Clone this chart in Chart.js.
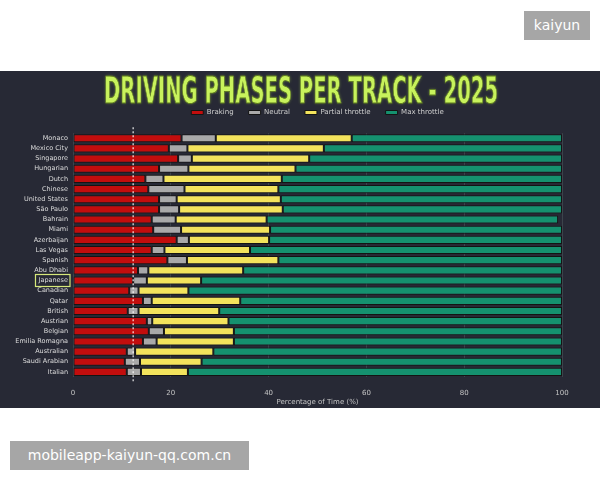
<!DOCTYPE html>
<html>
<head>
<meta charset="utf-8">
<script src="https://cdn.jsdelivr.net/npm/chart.js@4.4.1/dist/chart.umd.min.js"></script>
<style>
  html, body { margin: 0; padding: 0; background: #ffffff; width: 600px; height: 480px; overflow: hidden; }
  #panel { position: absolute; left: 0; top: 71px; width: 600px; height: 337px; background: #272935; }
  #chart { position: absolute; left: 0; top: 0; }
  #title {
    position: absolute; left: 301px; top: 1px; white-space: nowrap; pointer-events: none;
    font-family: "DejaVu Sans Condensed", "Liberation Sans Narrow", sans-serif;
    font-weight: bold; font-size: 37px; line-height: 37px; color: #c8f25c;
    -webkit-text-stroke: 0.8px #5d7a1e;
    text-shadow: 0 0 4px rgba(190, 240, 80, 0.45);
    transform-origin: 0 0;
  }
  .wm { position: absolute; background: #a6a6a6; color: #ffffff;
        font-family: "DejaVu Sans", sans-serif; text-align: center; }
  #wm1 { left: 524px; top: 11px; width: 66px; height: 29px; line-height: 29px; font-size: 14px; }
  #wm2 { left: 10px; top: 441px; width: 239px; height: 29px; line-height: 29px; font-size: 14px; }
</style>
</head>
<body>
<div id="wm1" class="wm">kaiyun</div>
<div id="panel">
  <canvas id="chart" width="600" height="337"></canvas>
  <div id="title">DRIVING PHASES PER TRACK - 2025</div>
</div>
<div id="wm2" class="wm">mobileapp-kaiyun-qq.com.cn</div>
<script>
const tracks = ['Monaco', 'Mexico City', 'Singapore', 'Hungarian', 'Dutch', 'Chinese',
  'United States', 'São Paulo', 'Bahrain', 'Miami', 'Azerbaijan', 'Las Vegas', 'Spanish',
  'Abu Dhabi', 'Japanese', 'Canadian', 'Qatar', 'British', 'Austrian', 'Belgian',
  'Emilia Romagna', 'Australian', 'Saudi Arabian', 'Italian'];

const braking  = [22.2, 19.6, 21.5, 17.6, 14.8, 15.4, 17.6, 17.6, 16.1, 16.4, 21.2, 16.1, 19.3,
                  13.3, 12.3, 11.5, 14.3, 11.2, 15.1, 15.5, 14.3, 11.0, 10.6, 11.0];
const neutral  = [7.0, 3.8, 2.8, 6.0, 3.7, 7.4, 3.6, 4.1, 4.9, 5.7, 2.5, 2.6, 4.0,
                  2.1, 2.8, 1.9, 1.8, 2.2, 1.1, 3.1, 2.8, 1.7, 3.1, 2.9];
const partial  = [27.8, 27.9, 24.0, 21.9, 24.2, 19.2, 21.3, 21.2, 18.6, 18.2, 16.4, 17.5, 18.7,
                  19.4, 11.1, 10.2, 18.1, 16.5, 15.6, 14.3, 15.8, 16.0, 12.6, 9.6];
const maxThrottle = [43.0, 48.7, 51.7, 54.5, 57.3, 58.0, 57.5, 57.1, 59.6, 59.7, 59.9, 63.8, 58.0,
                  65.2, 73.8, 76.4, 65.8, 70.1, 68.2, 67.1, 67.1, 71.3, 73.7, 76.5];

const xTicks = [0, 20, 40, 60, 80, 100];
const refLine = 12.3;          // dotted reference line
const highlight = 'Japanese';  // boxed label

// title: squeeze horizontally to the width of the original, centred
const titleEl = document.getElementById('title');
const sx = 394 / titleEl.offsetWidth;
titleEl.style.transform = 'translateX(' + (-197) + 'px) scaleX(' + sx + ')';

const tickFont = { family: '"DejaVu Sans", sans-serif', size: 6.5 };

const overlay = {
  id: 'overlay',
  afterDatasetsDraw(chart) {
    const { ctx, chartArea, scales: { x } } = chart;
    const px = x.getPixelForValue(refLine);
    ctx.save();
    ctx.setLineDash([2, 2]);
    ctx.strokeStyle = 'rgba(255,255,255,0.9)';
    ctx.lineWidth = 1.2;
    ctx.beginPath();
    ctx.moveTo(px, chartArea.top - 6);
    ctx.lineTo(px, chartArea.bottom + 5);
    ctx.stroke();
    ctx.restore();
  },
  afterDraw(chart) {
    const { ctx, chartArea, scales: { y } } = chart;
    const i = tracks.indexOf(highlight);
    if (i < 0) return;
    const py = y.getPixelForTick(i);
    ctx.save();
    ctx.font = tickFont.size + 'px "DejaVu Sans", sans-serif';
    const w = ctx.measureText(highlight).width;
    const right = chartArea.left - 5;
    ctx.strokeStyle = '#d6e87a';
    ctx.lineWidth = 1.2;
    ctx.strokeRect(right - w - 3, py - 6, w + 5, 12);
    ctx.restore();
  }
};

const barStyle = { borderColor: '#141414', borderWidth: 1, borderSkipped: false,
                   barPercentage: 0.8, categoryPercentage: 1.0 };

new Chart(document.getElementById('chart'), {
  type: 'bar',
  data: {
    labels: tracks,
    datasets: [
      { label: 'Braking', data: braking, backgroundColor: '#c20d0d', ...barStyle },
      { label: 'Neutral', data: neutral, backgroundColor: '#a9a9a9', ...barStyle },
      { label: 'Partial throttle', data: partial, backgroundColor: '#f3e35c', ...barStyle },
      { label: 'Max throttle', data: maxThrottle, backgroundColor: '#15916f', ...barStyle }
    ]
  },
  options: {
    indexAxis: 'y',
    responsive: false,
    animation: false,
    layout: { padding: { top: 23, right: 38, left: 0, bottom: 2 } },
    plugins: {
      // empty title used as a spacer under the legend
      title: { display: true, text: '', weight: 500, font: { size: 1 }, padding: { top: 0, bottom: 6 } },
      tooltip: { enabled: false },
      legend: {
        position: 'top',
        fullSize: false,
        labels: { color: '#cfcfcf', boxWidth: 12, boxHeight: 4, padding: 15, font: { ...tickFont, size: 7 } }
      }
    },
    scales: {
      x: {
        stacked: true, min: 0, max: 100, z: 1,
        afterBuildTicks: s => { s.ticks = xTicks.map(v => ({ value: v })); },
        afterFit: s => { s.height = 29; },
        grid: { color: 'rgba(210,255,235,0.13)', drawTicks: false },
        border: { display: false },
        ticks: { color: '#c4c4c4', padding: 12, font: { ...tickFont, size: 7 } },
        title: { display: true, text: 'Percentage of Time (%)', color: '#c4c4c4',
                 padding: { top: 0, bottom: 0 }, font: { ...tickFont, size: 7 } }
      },
      y: {
        stacked: true,
        afterFit: s => { s.width = 73; },
        grid: { display: false, drawTicks: false },
        border: { display: false },
        ticks: { color: '#dcdcdc', padding: 5, autoSkip: false, font: tickFont }
      }
    }
  },
  plugins: [overlay]
});
</script>
</body>
</html>
